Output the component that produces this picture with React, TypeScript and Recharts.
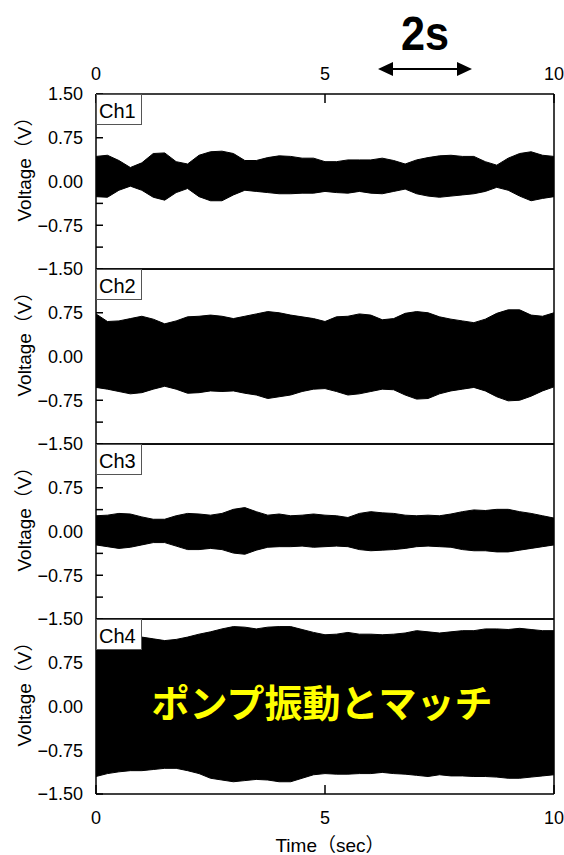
import { Area, AreaChart, XAxis, YAxis } from "recharts";

// time axis (sec) and envelope of each channel (V)
const TIME = [
  0, 0.25, 0.5, 0.75, 1, 1.25, 1.5, 1.75, 2, 2.25, 2.5, 2.75, 3, 3.25, 3.5, 3.75, 4, 4.25, 4.5, 4.75,
  5, 5.25, 5.5, 5.75, 6, 6.25, 6.5, 6.75, 7, 7.25, 7.5, 7.75, 8, 8.25, 8.5, 8.75, 9, 9.25, 9.5, 9.75, 10,
];

const CH1_HI = [
  0.43, 0.45, 0.36, 0.24, 0.32, 0.48, 0.49, 0.34, 0.3, 0.45, 0.51, 0.52, 0.48, 0.36, 0.36, 0.41, 0.44, 0.43, 0.4, 0.4,
  0.34, 0.34, 0.37, 0.37, 0.37, 0.4, 0.36, 0.3, 0.37, 0.41, 0.44, 0.45, 0.43, 0.43, 0.34, 0.28, 0.4, 0.48, 0.51, 0.45, 0.43,
];
const CH1_LO = [
  -0.26, -0.27, -0.15, -0.08, -0.15, -0.27, -0.32, -0.19, -0.12, -0.26, -0.33, -0.33, -0.23, -0.15, -0.17, -0.19, -0.21,
  -0.21, -0.2, -0.2, -0.17, -0.19, -0.2, -0.17, -0.2, -0.21, -0.17, -0.13, -0.21, -0.25, -0.27, -0.25, -0.23, -0.21,
  -0.17, -0.1, -0.15, -0.25, -0.33, -0.29, -0.26,
];

const CH2_HI = [
  0.73, 0.6, 0.61, 0.65, 0.69, 0.64, 0.56, 0.61, 0.68, 0.69, 0.71, 0.69, 0.65, 0.69, 0.73, 0.77, 0.75, 0.71, 0.68, 0.65,
  0.6, 0.68, 0.69, 0.73, 0.71, 0.63, 0.65, 0.74, 0.77, 0.75, 0.68, 0.64, 0.61, 0.58, 0.64, 0.74, 0.8, 0.8, 0.71, 0.69, 0.75,
];
const CH2_LO = [
  -0.53, -0.56, -0.6, -0.64, -0.62, -0.56, -0.51, -0.56, -0.63, -0.62, -0.59, -0.6, -0.59, -0.63, -0.66, -0.72, -0.69,
  -0.66, -0.6, -0.56, -0.55, -0.6, -0.66, -0.64, -0.6, -0.56, -0.57, -0.66, -0.73, -0.72, -0.64, -0.59, -0.56, -0.53,
  -0.59, -0.69, -0.76, -0.75, -0.68, -0.59, -0.52,
];

const CH3_HI = [
  0.27, 0.28, 0.31, 0.3, 0.25, 0.21, 0.21, 0.27, 0.31, 0.3, 0.28, 0.31, 0.38, 0.41, 0.34, 0.28, 0.3, 0.27, 0.28, 0.3,
  0.28, 0.27, 0.24, 0.31, 0.34, 0.32, 0.31, 0.28, 0.27, 0.28, 0.27, 0.3, 0.34, 0.37, 0.36, 0.38, 0.38, 0.34, 0.31, 0.27, 0.23,
];
const CH3_LO = [
  -0.23, -0.26, -0.29, -0.27, -0.23, -0.19, -0.19, -0.25, -0.31, -0.31, -0.29, -0.31, -0.37, -0.39, -0.32, -0.27, -0.26,
  -0.26, -0.25, -0.27, -0.26, -0.25, -0.26, -0.31, -0.33, -0.32, -0.31, -0.29, -0.26, -0.25, -0.26, -0.27, -0.31, -0.33,
  -0.33, -0.35, -0.35, -0.32, -0.29, -0.26, -0.23,
];

const CH4_HI = [
  1.2, 1.2, 1.2, 1.19, 1.19, 1.16, 1.13, 1.15, 1.19, 1.24, 1.28, 1.33, 1.37, 1.36, 1.33, 1.36, 1.37, 1.37, 1.32, 1.27,
  1.23, 1.24, 1.27, 1.24, 1.24, 1.23, 1.24, 1.26, 1.3, 1.28, 1.26, 1.28, 1.3, 1.3, 1.33, 1.33, 1.32, 1.34, 1.32, 1.3, 1.3,
];
const CH4_LO = [
  -1.2, -1.15, -1.12, -1.1, -1.1, -1.08, -1.06, -1.06, -1.1, -1.15, -1.23, -1.26, -1.29, -1.27, -1.25, -1.26, -1.29,
  -1.29, -1.23, -1.17, -1.15, -1.16, -1.16, -1.15, -1.15, -1.13, -1.15, -1.16, -1.18, -1.2, -1.17, -1.19, -1.19, -1.2,
  -1.2, -1.21, -1.23, -1.23, -1.21, -1.19, -1.17,
];

const CHANNELS = ["Ch1", "Ch2", "Ch3", "Ch4"];

const DATA = TIME.map((t, i) => ({
  t,
  Ch1: [CH1_LO[i], CH1_HI[i]],
  Ch2: [CH2_LO[i], CH2_HI[i]],
  Ch3: [CH3_LO[i], CH3_HI[i]],
  Ch4: [CH4_LO[i], CH4_HI[i]],
}));

const Y_TICKS = [-1.5, -1.125, -0.75, -0.375, 0, 0.375, 0.75, 1.125, 1.5];
const X_MAJOR = [0, 5, 10];
const X_MINOR = [2.5, 7.5];

const W = 564;
const H = 855;
const PLOT_LEFT = 96;
const PLOT_RIGHT = 554;
const PANEL_H = 175;
const PANEL_TOP = [94, 269, 444, 619];
const PAD_TOP = 32;
const PAD_BOTTOM = 36;
const AX = 1; // thickness given to every axis box

const FONT = '"Liberation Sans", Arial, "Noto Sans CJK JP", sans-serif';
const LINE = { stroke: "#000", strokeWidth: 1.5 };
const TICK_TEXT = { fill: "#000", fontSize: 18, fontFamily: FONT };

function yLabel(v: number, showTop: boolean) {
  const q = (v * 4) / 3;
  if (Math.abs(q - Math.round(q)) > 1e-6) return "";
  if (v > 1.4 && !showTop) return "";
  const s = Math.abs(v).toFixed(2);
  return v < 0 ? "\u2212" + s : s;
}

function Panel({ idx }: { idx: number }) {
  const name = CHANNELS[idx];
  const first = idx === 0;
  const last = idx === CHANNELS.length - 1;
  const xCommon = {
    dataKey: "t",
    type: "number" as const,
    domain: [0, 10],
    allowDataOverflow: true,
    interval: 0 as const,
    height: AX,
  };
  const yCommon = {
    type: "number" as const,
    domain: [-1.5, 1.5],
    allowDataOverflow: true,
    ticks: Y_TICKS,
    interval: 0 as const,
    width: AX,
    axisLine: LINE,
    tickLine: LINE,
    tickSize: -7,
  };
  return (
    <div style={{ position: "absolute", left: 0, top: PANEL_TOP[idx] - PAD_TOP }}>
      <AreaChart
        width={W}
        height={PANEL_H + PAD_TOP + PAD_BOTTOM}
        data={DATA}
        margin={{
          top: PAD_TOP - 2 * AX,
          right: W - PLOT_RIGHT - AX,
          bottom: PAD_BOTTOM - 2 * AX,
          left: PLOT_LEFT - AX,
        }}
      >
        <XAxis
          {...xCommon}
          xAxisId="b"
          orientation="bottom"
          ticks={X_MAJOR}
          axisLine={LINE}
          tickLine={LINE}
          tickSize={-9}
          tickMargin={26}
          tick={last ? TICK_TEXT : false}
        />
        <XAxis {...xCommon} xAxisId="bm" orientation="bottom" ticks={X_MINOR} axisLine={false} tickLine={LINE} tickSize={-6} tick={false} />
        <XAxis
          {...xCommon}
          xAxisId="t"
          orientation="top"
          ticks={X_MAJOR}
          axisLine={LINE}
          tickLine={LINE}
          tickSize={-9}
          tickMargin={23}
          tick={first ? TICK_TEXT : false}
        />
        <XAxis {...xCommon} xAxisId="tm" orientation="top" ticks={X_MINOR} axisLine={false} tickLine={LINE} tickSize={-6} tick={false} />
        <YAxis
          {...yCommon}
          yAxisId="l"
          tickMargin={20}
          tick={TICK_TEXT}
          tickFormatter={(v: number) => yLabel(v, first)}
        />
        <YAxis {...yCommon} yAxisId="r" orientation="right" tick={false} />
        <Area
          xAxisId="b"
          yAxisId="l"
          dataKey={name}
          type="linear"
          fill="#000"
          fillOpacity={1}
          stroke="#000"
          strokeWidth={1}
          dot={false}
          activeDot={false}
          isAnimationActive={false}
        />
      </AreaChart>
    </div>
  );
}

export default function App() {
  return (
    <div style={{ position: "absolute", left: 0, top: 0, width: W, height: H, background: "#fff", fontFamily: FONT }}>
      {CHANNELS.map((c, i) => (
        <Panel key={c} idx={i} />
      ))}
      <svg width={W} height={H} style={{ position: "absolute", left: 0, top: 0, pointerEvents: "none" }}>
        {/* 2 s scale marker */}
        <text
          transform="translate(425,50) scale(0.9,1)"
          textAnchor="middle"
          fontFamily={FONT}
          fontWeight="bold"
          fontSize={48}
          fill="#000"
        >
          2s
        </text>
        <line x1={390} y1={69} x2={460} y2={69} stroke="#000" strokeWidth={2} />
        <polygon points="378,69 393,62 393,76" fill="#000" />
        <polygon points="472,69 457,62 457,76" fill="#000" />

        {CHANNELS.map((c, i) => {
          const top = PANEL_TOP[i];
          const cy = top + PANEL_H / 2 - 17;
          return (
            <g key={c}>
              <text
                transform={`translate(31,${cy}) rotate(-90)`}
                textAnchor="middle"
                fontFamily={FONT}
                fontSize={19}
                fill="#000"
              >
                Voltage（V）
              </text>
              <rect x={PLOT_LEFT + 0.5} y={top + 0.5} width={45} height={30} fill="#fff" stroke="#555" strokeWidth={1} />
              <text x={PLOT_LEFT + 3} y={top + 24} fontFamily={FONT} fontSize={20} fill="#000">
                {c}
              </text>
            </g>
          );
        })}

        <text
          x={322}
          y={717}
          textAnchor="middle"
          fontFamily='"Noto Sans CJK JP", sans-serif'
          fontWeight="bold"
          fontSize={38}
          fill="#ffff00"
        >
          ポンプ振動とマッチ
        </text>

        <text x={330} y={852} textAnchor="middle" fontFamily={FONT} fontSize={19} fill="#000">
          Time（sec）
        </text>
      </svg>
    </div>
  );
}
